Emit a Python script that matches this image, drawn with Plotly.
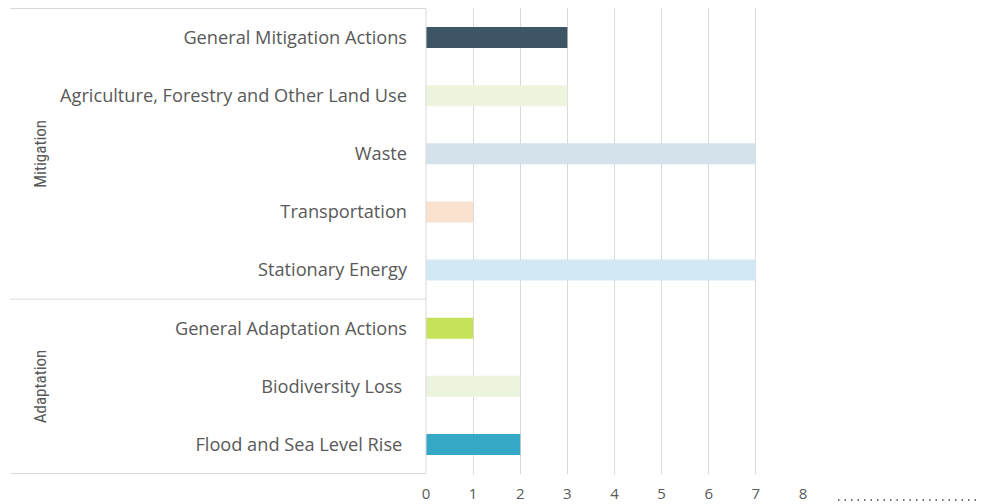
import plotly.graph_objects as go

categories = [
    "General Mitigation Actions",
    "Agriculture, Forestry and Other Land Use",
    "Waste",
    "Transportation",
    "Stationary Energy",
    "General Adaptation Actions",
    "Biodiversity Loss ",
    "Flood and Sea Level Rise ",
]
values = [3, 3, 7, 1, 7, 1, 2, 2]
bar_colors = [
    "#3e5566", "#eef4dd", "#d4e2eb", "#fbe2cf",
    "#d2e9f5", "#c6e25b", "#ecf3de", "#36a8c7",
]
groups = [("Mitigation", 0, 4), ("Adaptation", 5, 7)]
x_ticks = [0, 1, 2, 3, 4, 5, 6, 7, 8]

GRID = "#d9d9d9"
TEXT = "#595959"
FONT = "Open Sans, Liberation Sans, sans-serif"

# the page body adds an 8px margin, so the figure is drawn at (8, 8)
OFF = 8
W, H = 989 - OFF, 504 - OFF
ML, MR, MT, MB = 426 - OFF, 186, 0, 30
plot_w = W - ML - MR
plot_h = H - MT - MB

fig = go.Figure(
    go.Bar(
        x=values,
        y=categories,
        orientation="h",
        marker=dict(color=bar_colors, line=dict(width=0)),
        width=0.36,
        hoverinfo="x+y",
    )
)

# group separators on the left, like a two-level category axis
left_x = (10 - 426) / plot_w
for pos in (-0.5, 4.5, 7.5):
    fig.add_shape(
        type="line", xref="paper", yref="y",
        x0=left_x, x1=0, y0=pos, y1=pos,
        line=dict(color=GRID, width=1),
    )
fig.add_shape(
    type="line", xref="paper", yref="y",
    x0=0, x1=0, y0=-0.5, y1=7.5,
    line=dict(color=GRID, width=1),
)

label_x = (28 - 426) / plot_w
for name, first, last in groups:
    fig.add_annotation(
        text=name, xref="paper", yref="y",
        x=label_x, y=(first + last) / 2,
        textangle=-90, showarrow=False,
        font=dict(family="Liberation Sans Narrow, Roboto Condensed, sans-serif", size=17, color=TEXT),
    )

# dotted leader at the bottom right
bottom = 504 - MB
dot_y = (bottom - 500) / plot_h
fig.add_shape(
    type="line", xref="paper", yref="paper",
    x0=(838 - 426) / plot_w, x1=(985 - 426) / plot_w,
    y0=dot_y, y1=dot_y,
    line=dict(color="#444444", width=1.5, dash="1.5px,5px"),
)

fig.update_layout(
    width=W, height=H,
    margin=dict(l=ML, r=MR, t=MT, b=MB, autoexpand=False),
    paper_bgcolor="white", plot_bgcolor="white",
    showlegend=False,
    font=dict(family=FONT, color=TEXT, size=14),
    xaxis=dict(
        range=[0, 8], tickvals=x_ticks,
        showgrid=True, gridcolor=GRID, gridwidth=1,
        zeroline=False, showline=False,
        ticks="", ticklabelstandoff=9,
        tickfont=dict(size=15, color=TEXT),
        fixedrange=True,
    ),
    yaxis=dict(
        categoryorder="array", categoryarray=categories,
        autorange="reversed", range=[7.5, -0.5],
        showgrid=False, zeroline=False, showline=False,
        ticks="", ticklabelstandoff=18,
        tickfont=dict(size=18.2, color=TEXT),
        fixedrange=True,
    ),
)

fig.write_html("out.html")
